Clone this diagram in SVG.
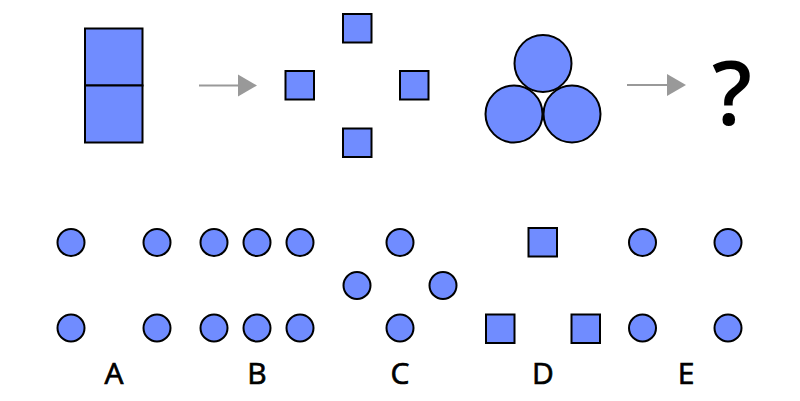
<svg xmlns="http://www.w3.org/2000/svg" width="800" height="401" viewBox="0 0 800 401">
<defs>
<style>
.s{fill:#708cff;stroke:#000;stroke-width:2}
.a{stroke:#999;stroke-width:2;fill:none}
.h{fill:#999}
.t{font-family:"Open Sans","DejaVu Sans",sans-serif;font-size:30px;font-weight:normal;fill:#000;stroke:#000;stroke-width:0.7;text-anchor:middle}
</style>
</defs>
<rect width="800" height="401" fill="#fff"/>
<g id="domino">
<rect class="s" x="85" y="28.5" width="57.5" height="57"/>
<rect class="s" x="85" y="85.5" width="57.5" height="57"/>
</g>
<g id="four-squares">
<rect class="s" x="343" y="14" width="28.5" height="28.5"/>
<rect class="s" x="285.5" y="71" width="28.5" height="28.5"/>
<rect class="s" x="400" y="71" width="28.5" height="28.5"/>
<rect class="s" x="343" y="128.5" width="28.5" height="28.5"/>
</g>
<g id="three-circles">
<circle class="s" cx="543" cy="63.5" r="28.5"/>
<circle class="s" cx="514" cy="114" r="28.5"/>
<circle class="s" cx="572" cy="114" r="28.5"/>
</g>
<g id="question">
<text x="732" y="125" style="font-family:'Open Sans','DejaVu Sans',sans-serif;font-size:88px;font-weight:600;text-anchor:middle">?</text>
</g>
<g id="connectors">
<line class="a" x1="199" y1="85.5" x2="240" y2="85.5"/>
<polygon class="h" points="238,74.5 257,85.5 238,96.5"/>
<line class="a" x1="627" y1="85" x2="669" y2="85"/>
<polygon class="h" points="667,74 686,85 667,96"/>
</g>
<g id="optA">
<circle class="s" cx="71" cy="242.5" r="13.5"/>
<circle class="s" cx="157" cy="242.5" r="13.5"/>
<circle class="s" cx="71" cy="328" r="13.5"/>
<circle class="s" cx="157" cy="328" r="13.5"/>
<text class="t" x="114" y="384">A</text>
</g>
<g id="optB">
<circle class="s" cx="214" cy="242.5" r="13.5"/>
<circle class="s" cx="257" cy="242.5" r="13.5"/>
<circle class="s" cx="300" cy="242.5" r="13.5"/>
<circle class="s" cx="214" cy="328" r="13.5"/>
<circle class="s" cx="257" cy="328" r="13.5"/>
<circle class="s" cx="300" cy="328" r="13.5"/>
<text class="t" x="257" y="384">B</text>
</g>
<g id="optC">
<circle class="s" cx="400" cy="242.5" r="13.5"/>
<circle class="s" cx="357" cy="285.5" r="13.5"/>
<circle class="s" cx="443" cy="285.5" r="13.5"/>
<circle class="s" cx="400" cy="328" r="13.5"/>
<text class="t" x="400" y="384">C</text>
</g>
<g id="optD">
<rect class="s" x="528.5" y="228" width="28.5" height="28.5"/>
<rect class="s" x="486" y="314.5" width="28.5" height="28.5"/>
<rect class="s" x="571.5" y="314.5" width="28.5" height="28.5"/>
<text class="t" x="543" y="384">D</text>
</g>
<g id="optE">
<circle class="s" cx="642.5" cy="242.5" r="13.5"/>
<circle class="s" cx="728" cy="242.5" r="13.5"/>
<circle class="s" cx="642.5" cy="328" r="13.5"/>
<circle class="s" cx="728" cy="328" r="13.5"/>
<text class="t" x="686" y="384">E</text>
</g>
</svg>
